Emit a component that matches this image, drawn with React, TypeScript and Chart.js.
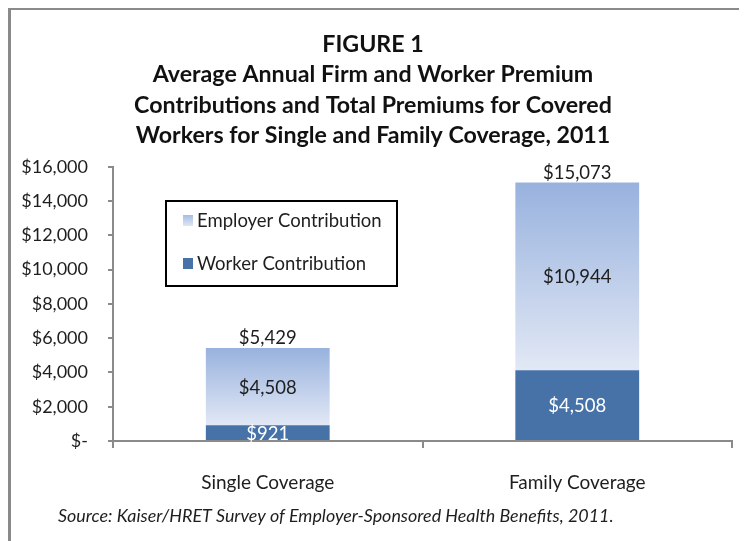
import React, { useEffect, useRef } from 'react';
import { Chart, registerables } from 'chart.js';

Chart.register(...registerables);

const categories = ['Single Coverage', 'Family Coverage'];
const workerValues = [921, 4129];
const employerValues = [4508, 10944];
const workerLabels = ['$921', '$4,508'];
const seriesNames = ['Worker Contribution', 'Employer Contribution'];
const yMax = 16000;
const yStep = 2000;
const titleLines = [
  'FIGURE 1',
  'Average Annual Firm and Worker Premium',
  'Contributions and Total Premiums for Covered',
  'Workers for Single and Family Coverage, 2011',
];
const sourceText = 'Source: Kaiser/HRET Survey of Employer-Sponsored Health Benefits, 2011.';

const FONT = 'Lato, "Open Sans", sans-serif';
const TEXT = '#1e1e1e';
const AXIS = '#8a8a8a';
const WORKER = '#4672a8';
const EMP_TOP = '#98b2de';
const EMP_BOT = '#e2e8f5';

const money = (v: number) => (v === 0 ? '$-' : '$' + v.toLocaleString('en-US'));

const decorPlugin = {
  id: 'decor',
  afterDatasetsDraw(chart: any) {
    const ctx = chart.ctx;
    ctx.save();
    ctx.textAlign = 'center';
    ctx.textBaseline = 'middle';
    ctx.font = `18.5px ${FONT}`;
    const wMeta = chart.getDatasetMeta(0);
    const eMeta = chart.getDatasetMeta(1);
    wMeta.data.forEach((bar: any, i: number) => {
      ctx.fillStyle = '#ffffff';
      ctx.fillText(workerLabels[i], bar.x, (bar.y + bar.base) / 2 + 1);
    });
    eMeta.data.forEach((bar: any, i: number) => {
      ctx.fillStyle = TEXT;
      ctx.fillText(money(employerValues[i]), bar.x, (bar.y + bar.base) / 2 + 1);
      ctx.fillText(money(workerValues[i] + employerValues[i]), bar.x, bar.y - 10);
    });
    ctx.restore();
  },
  afterDraw(chart: any) {
    const ctx = chart.ctx;
    ctx.save();
    // title
    ctx.fillStyle = '#111111';
    ctx.textAlign = 'center';
    ctx.textBaseline = 'middle';
    ctx.font = `bold 23.2px ${FONT}`;
    const titleYs = [35, 65, 96, 126];
    titleLines.forEach((t, i) => ctx.fillText(t, 362, titleYs[i]));
    // legend
    ctx.lineWidth = 2;
    ctx.strokeStyle = '#000000';
    ctx.strokeRect(155, 191, 231, 85);
    ctx.font = `18.5px ${FONT}`;
    ctx.textAlign = 'left';
    const g = ctx.createLinearGradient(0, 205, 0, 216);
    g.addColorStop(0, '#a6bde4');
    g.addColorStop(1, '#dfe6f4');
    ctx.fillStyle = g;
    ctx.fillRect(172, 205, 10, 11);
    ctx.fillStyle = TEXT;
    ctx.fillText(seriesNames[1], 186, 211);
    ctx.fillStyle = WORKER;
    ctx.fillRect(172, 248, 10, 11);
    ctx.fillStyle = TEXT;
    ctx.fillText(seriesNames[0], 186, 254);
    // source
    ctx.font = `italic 17.9px ${FONT}`;
    ctx.fillText(sourceText, 47, 506);
    ctx.restore();
  },
};

export default function App() {
  const ref = useRef<HTMLCanvasElement | null>(null);
  useEffect(() => {
    document.documentElement.style.overflow = 'hidden';
    document.body.style.overflow = 'hidden';
    const canvas = ref.current;
    if (!canvas) return;
    const empGradient = (c: any) => {
      const chart = c.chart;
      if (!chart.chartArea || c.dataIndex == null) return '#b8c9e8';
      const y = chart.scales.y;
      const i = c.dataIndex;
      const top = y.getPixelForValue(workerValues[i] + employerValues[i]);
      const bot = y.getPixelForValue(workerValues[i]);
      const g = chart.ctx.createLinearGradient(0, top, 0, bot);
      g.addColorStop(0, EMP_TOP);
      g.addColorStop(1, EMP_BOT);
      return g;
    };
    const chart = new Chart(canvas, {
      type: 'bar',
      data: {
        labels: categories,
        datasets: [
          { label: seriesNames[0], data: workerValues, backgroundColor: WORKER, borderWidth: 0 },
          { label: seriesNames[1], data: employerValues, backgroundColor: empGradient, borderWidth: 0 },
        ],
      },
      options: {
        animation: false,
        responsive: false,
        maintainAspectRatio: false,
        layout: { padding: { top: 156.7, left: 0, right: 12, bottom: 39 } },
        plugins: {
          legend: { display: false },
          title: { display: false },
          tooltip: { enabled: false },
        },
        datasets: { bar: { categoryPercentage: 0.8, barPercentage: 0.5 } },
        scales: {
          x: {
            stacked: true,
            z: 1,
            grid: { display: true, drawOnChartArea: false, drawTicks: true, tickLength: 7, color: AXIS, lineWidth: 2, offset: true },
            border: { display: true, color: AXIS, width: 2 },
            ticks: { color: TEXT, font: { family: FONT, size: 19 }, padding: 23, maxRotation: 0 },
            afterFit: (s: any) => { s.height = 70; },
          },
          y: {
            stacked: true,
            min: 0,
            max: yMax,
            grid: { display: true, drawOnChartArea: false, drawTicks: true, tickLength: 5, color: AXIS, lineWidth: 2 },
            border: { display: true, color: AXIS, width: 2 },
            ticks: {
              stepSize: yStep,
              color: TEXT,
              font: { family: FONT, size: 18 },
              padding: 20,
              callback: (v: any) => money(Number(v)),
            },
            afterFit: (s: any) => { s.width = 102; },
          },
        },
      },
      plugins: [decorPlugin],
    });
    return () => chart.destroy();
  }, []);
  return (
    <div
      style={{
        position: 'relative',
        width: 733,
        height: 560,
        borderStyle: 'solid',
        borderColor: '#8a8a8a',
        borderWidth: '2px 3px 3px 3px',
        background: '#fff',
        overflow: 'hidden',
      }}
    >
      <canvas ref={ref} width={733} height={540} style={{ display: 'block', width: 733, height: 540 }} />
    </div>
  );
}
